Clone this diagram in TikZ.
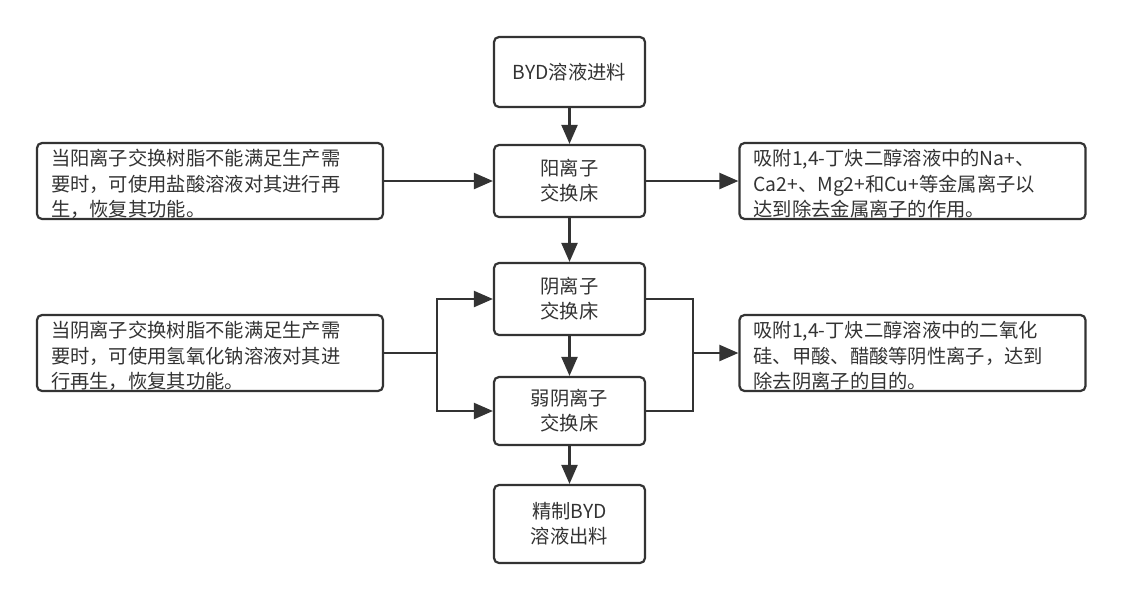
\documentclass[tikz,border=0pt]{standalone}
\usepackage{fontspec}
\setmainfont{Noto Sans CJK SC}
\usetikzlibrary{arrows.meta}
\newcommand{\mlines}[1]{\raisebox{-2pt}[\height][\depth]{\begin{tabular}{@{}c@{}}#1\end{tabular}}}
\newcommand{\slines}[1]{\raisebox{-3pt}[\height][\depth]{\parbox{318pt}{\raggedright #1}}}
\begin{document}
\begin{tikzpicture}[x=1pt,y=-1pt,
  every node/.style={font=\fontsize{19.3}{25.5}\selectfont, text=black!80},
  mainbox/.style={draw=black!80, line width=2.2pt, rounded corners=5pt, minimum width=151pt, align=center, inner sep=0pt},
  sidebox/.style={draw=black!80, line width=2.2pt, rounded corners=5pt, minimum width=346pt, minimum height=76pt, text width=318pt, align=left, inner xsep=14pt, inner ysep=0pt},
  conn/.style={draw=black!80, line width=2.2pt},
  arr/.style={conn, -{Triangle[length=19pt,width=16pt]}}
]
\useasboundingbox (0,0) rectangle (1123,600);
\node[mainbox, minimum height=70pt] (b1) at (569.5,72) {\mlines{BYD溶液进料}};
\node[mainbox, minimum height=72pt] (b2) at (569.5,181) {\mlines{阳离子\\交换床}};
\node[mainbox, minimum height=72pt] (b3) at (569.5,299) {\mlines{阴离子\\交换床}};
\node[mainbox, minimum height=68pt] (b4) at (569.5,411) {\mlines{弱阴离子\\交换床}};
\node[mainbox, minimum height=78pt] (b5) at (569.5,524) {\mlines{精制BYD\\溶液出料}};

\node[sidebox] (l1) at (210,181) {\slines{当阳离子交换树脂不能满足生产需\\要时，可使用盐酸溶液对其进行再\\生，恢复其功能。}};
\node[sidebox] (r1) at (912.5,181) {\slines{吸附1,4-丁炔二醇溶液中的Na+、\\Ca2+、Mg2+和Cu+等金属离子以\\达到除去金属离子的作用。}};
\node[sidebox] (l2) at (210,353) {\slines{当阴离子交换树脂不能满足生产需\\要时，可使用氢氧化钠溶液对其进\\行再生，恢复其功能。}};
\node[sidebox] (r2) at (912.5,353) {\slines{吸附1,4-丁炔二醇溶液中的二氧化\\硅、甲酸、醋酸等阴性离子，达到\\除去阴离子的目的。}};

\coordinate (jl) at (437,353);
\coordinate (jr) at (693,353);

\draw[arr] (b1) -- (b2);
\draw[arr] (b2) -- (b3);
\draw[arr] (b3) -- (b4);
\draw[arr] (b4) -- (b5);
\draw[arr] (l1.east) -- (b2.west |- l1.east);
\draw[arr] (b2.east) -- (r1.west |- b2.east);
\draw[conn] (l2.east) -- (jl);
\draw[arr] (jl) |- (b3.west);
\draw[arr] (jl) |- (b4.west);
\draw[conn] (b3.east) -| (jr);
\draw[conn] (b4.east) -| (jr);
\draw[arr] (jr) -- (r2.west);
\end{tikzpicture}
\end{document}
